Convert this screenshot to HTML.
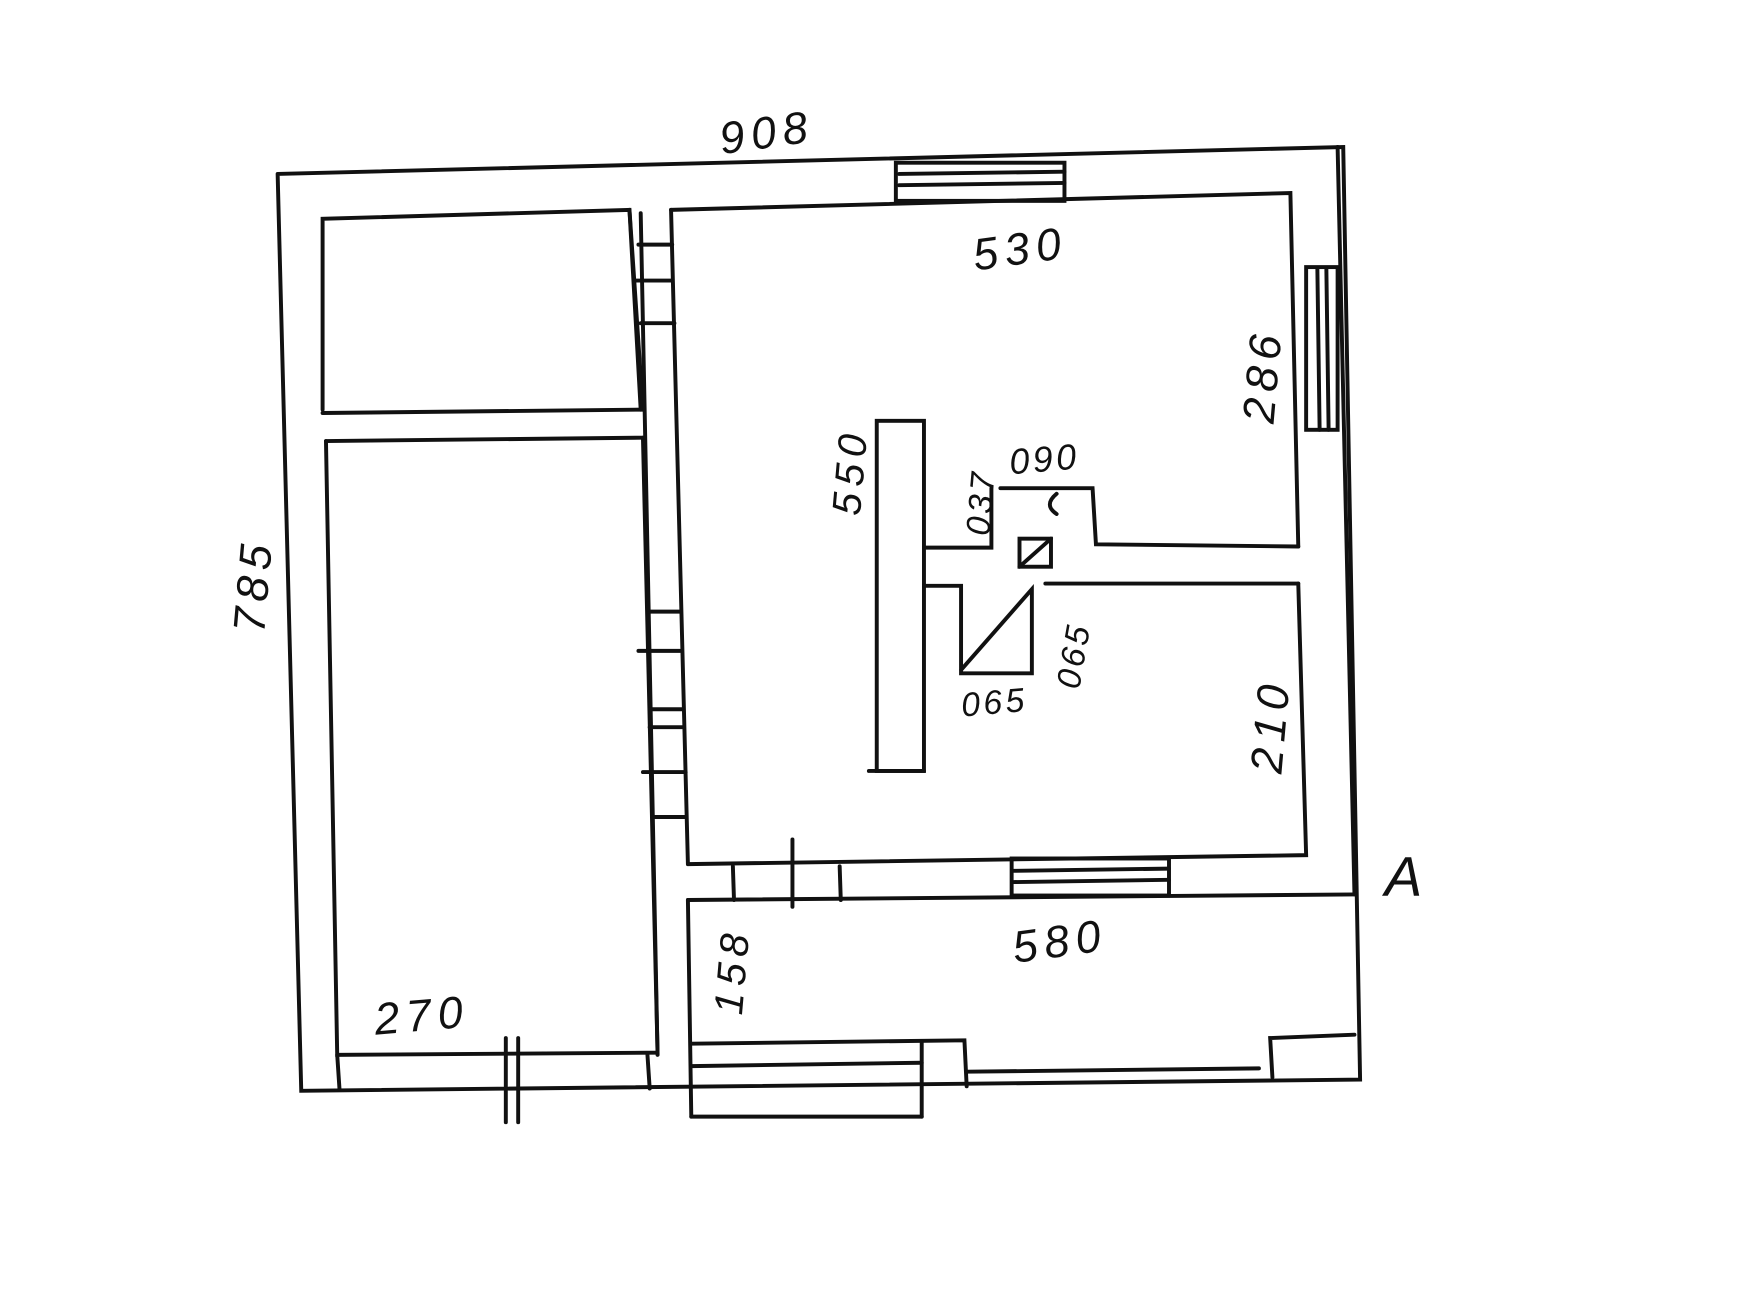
<!DOCTYPE html>
<html><head><meta charset="utf-8"><style>
html,body{margin:0;padding:0;background:#fff;}
svg{display:block}
text{font-family:"Liberation Sans",sans-serif;font-style:italic;fill:#111;font-size:40px;letter-spacing:6px}
</style></head><body>
<svg width="1758" height="1313" viewBox="0 0 1564 1170" preserveAspectRatio="none" xmlns="http://www.w3.org/2000/svg">
<g stroke="#111" stroke-width="3.5" fill="none" stroke-linecap="round">
<!-- outer -->
<polyline points="247,155 1195,131 1210,962 268,972 247,155"/>
<line x1="1190" y1="131" x2="1205" y2="797"/>
<!-- left rooms -->
<polyline points="287,365 287,195 560,187 570,365"/>
<line x1="287" y1="368" x2="572" y2="365"/>
<line x1="290" y1="393" x2="572" y2="390"/>
<polyline points="290,393 300,940 585,938 572,390"/>
<line x1="300" y1="940" x2="302" y2="970"/>
<line x1="576" y1="940" x2="578" y2="970"/>
<line x1="560" y1="187" x2="572" y2="365"/>
<line x1="570" y1="190" x2="585" y2="940"/>
<!-- partition marks -->
<line x1="568" y1="218" x2="598" y2="218"/>
<line x1="566" y1="250" x2="598" y2="250"/>
<line x1="570" y1="288" x2="600" y2="288"/>
<line x1="578" y1="545" x2="605" y2="545"/>
<line x1="568" y1="580" x2="605" y2="580"/>
<line x1="578" y1="632" x2="608" y2="632"/>
<line x1="578" y1="648" x2="608" y2="648"/>
<line x1="572" y1="688" x2="610" y2="688"/>
<line x1="580" y1="728" x2="610" y2="728"/>
<!-- big room -->
<polyline points="597,187 1148,172 1155,487"/>
<line x1="597" y1="187" x2="612" y2="770"/>
<polyline points="612,770 1162,762 1155,520"/>
<!-- windows -->
<rect x="797" y="145" width="150" height="34"/>
<line x1="800" y1="155" x2="947" y2="153"/>
<line x1="800" y1="165" x2="947" y2="163"/>
<rect x="1162" y="238" width="28" height="145"/>
<line x1="1172" y1="240" x2="1174" y2="383"/>
<line x1="1180" y1="240" x2="1182" y2="383"/>
<rect x="900" y="765" width="140" height="33"/>
<line x1="902" y1="776" x2="1040" y2="774"/>
<line x1="902" y1="786" x2="1040" y2="784"/>
<!-- stove -->
<rect x="780" y="375" width="42" height="312"/>
<line x1="773" y1="687" x2="822" y2="687"/>
<polyline points="822,488 882,488 882,435"/>
<polyline points="890,435 972,435 975,485 1155,487"/>
<polyline points="822,522 855,522 855,600 918,600 918,525 855,597"/>
<line x1="930" y1="520" x2="1155" y2="520"/>
<rect x="907" y="480" width="28" height="25"/>
<line x1="907" y1="505" x2="935" y2="480"/>
<path d="M940,440 Q928,450 940,458"/>
<!-- vestibule -->
<line x1="612" y1="802" x2="1205" y2="797"/>
<line x1="612" y1="802" x2="615" y2="995"/>
<line x1="652" y1="772" x2="653" y2="802"/>
<line x1="705" y1="748" x2="705" y2="808"/>
<line x1="747" y1="772" x2="748" y2="802"/>
<polyline points="615,930 858,927 860,968"/>
<line x1="615" y1="950" x2="820" y2="947"/>
<line x1="820" y1="928" x2="820" y2="995"/>
<line x1="615" y1="995" x2="820" y2="995"/>
<line x1="860" y1="955" x2="1120" y2="952"/>
<polyline points="1132,960 1130,925 1205,922"/>
<line x1="450" y1="925" x2="450" y2="1000"/>
<line x1="461" y1="925" x2="461" y2="1000"/>
</g>
<text x="640" y="132" transform="rotate(-8 680 120)">908</text>
<text x="865" y="235" transform="rotate(-8 910 220)">530</text>
<text x="0" y="0" transform="translate(235,565) rotate(-85)">785</text>
<text x="0" y="0" transform="translate(1133,378) rotate(-85)">286</text>
<text x="0" y="0" transform="translate(765,460) rotate(-85)" style="font-size:36px">550</text>
<text x="0" y="0" transform="translate(880,478) rotate(-85)" style="font-size:30px;letter-spacing:3px">037</text>
<text x="898" y="420" style="font-size:32px;letter-spacing:3px" transform="rotate(-5 930 410)">090</text>
<text x="0" y="0" transform="translate(960,615) rotate(-80)" style="font-size:30px;letter-spacing:3px">065</text>
<text x="855" y="636" style="font-size:30px;letter-spacing:3px" transform="rotate(-5 885 625)">065</text>
<text x="0" y="0" transform="translate(1140,690) rotate(-85)">210</text>
<text x="900" y="852" transform="rotate(-8 945 835)">580</text>
<text x="0" y="0" transform="translate(660,905) rotate(-85)" style="font-size:36px">158</text>
<text x="333" y="918" transform="rotate(-5 380 905)">270</text>
<text x="1232" y="798" style="font-size:50px">A</text>
</svg>
</body></html>
